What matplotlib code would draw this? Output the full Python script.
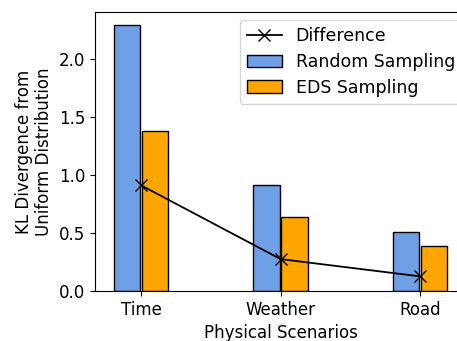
import numpy as np
import matplotlib
matplotlib.use("Agg")
import matplotlib.pyplot as plt

# data
scenarios = ["Time", "Weather", "Road"]
random_kl = [2.29, 0.914, 0.51]
eds_kl = [1.38, 0.64, 0.385]
difference = [0.91, 0.274, 0.125]


def plot_kl(out_file="out.png"):
    fig = plt.figure(figsize=(4.57, 3.41), dpi=100)
    ax = fig.add_axes([0.208, 0.147, 0.812, 0.818])

    x = np.arange(len(scenarios))
    width = 0.19
    ax.bar(x - 0.1, random_kl, width, color="#6fa0e6", edgecolor="black",
           linewidth=1, label="Random Sampling")
    ax.bar(x + 0.1, eds_kl, width, color="orange", edgecolor="black",
           linewidth=1, label="EDS Sampling")
    ax.plot(x, difference, color="black", marker="x", markersize=8,
            linewidth=1.3, label="Difference")

    ax.set_xticks(x)
    ax.set_xticklabels(scenarios, fontsize=12)
    ax.tick_params(axis="y", labelsize=12)
    ax.set_xlim(-0.33, 2.33)
    ax.set_ylim(0, 2.405)
    ax.set_yticks([0.0, 0.5, 1.0, 1.5, 2.0])
    ax.set_xlabel("Physical Scenarios", fontsize=12, labelpad=4)
    ax.set_ylabel("KL Divergence from\nUniform Distribution", fontsize=12)

    # legend sits against the top right, partly cut by the figure edge
    ax.legend(loc="upper left", bbox_to_anchor=(240 / 457, 1 - 20 / 341),
              bbox_transform=fig.transFigure, borderaxespad=0,
              fontsize=12.5, labelspacing=0.45)
    fig.savefig(out_file, dpi=100)


if __name__ == "__main__":
    plot_kl()
